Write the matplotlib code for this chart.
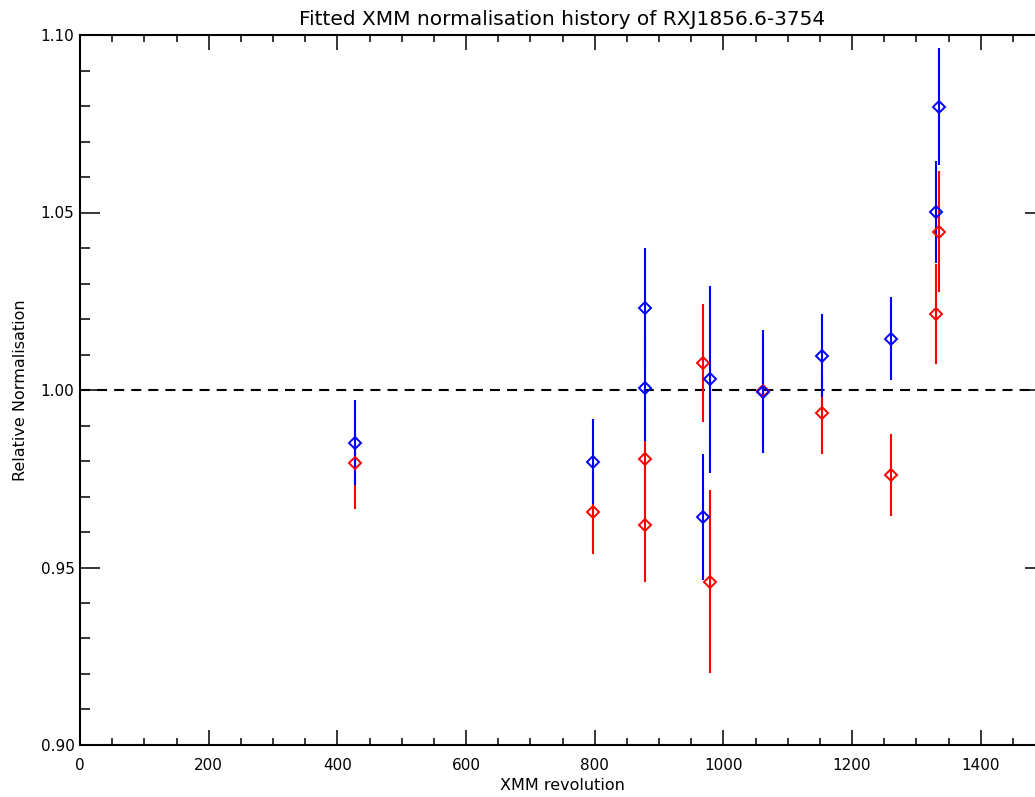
import matplotlib
matplotlib.use("Agg")
import matplotlib.pyplot as plt
from matplotlib.ticker import MultipleLocator, FormatStrFormatter

rev_red = [428, 798, 878, 878, 968, 980, 1061, 1153, 1260, 1331, 1335]
norm_red = [0.9794, 0.9655, 0.9805, 0.9620, 1.0077, 0.9460, 0.9997, 0.9934, 0.9761, 1.0214, 1.0446]
err_red = [0.0129, 0.0116, 0.0150, 0.0160, 0.0166, 0.0257, 0.0150, 0.0113, 0.0116, 0.0140, 0.0170]

rev_blue = [428, 798, 878, 878, 968, 980, 1061, 1153, 1260, 1330, 1335]
norm_blue = [0.9851, 0.9798, 1.0230, 1.0005, 0.9643, 1.0030, 0.9995, 1.0097, 1.0144, 1.0501, 1.0798]
err_blue = [0.0120, 0.0120, 0.0170, 0.0150, 0.0178, 0.0263, 0.0173, 0.0117, 0.0117, 0.0143, 0.0165]

plt.rcParams['font.family'] = ['DejaVu Sans']

W, H = 1035, 797
fig = plt.figure(figsize=(W / 100, H / 100), dpi=100)
# right spine sits just past the image edge, like the reference
ax = fig.add_axes([80 / W, (H - 745) / H, (1045 - 80) / W, (745 - 35) / H])

ax.axhline(1.0, color="black", lw=1.5, dashes=(4.8, 3.4), zorder=1)

for x, y, e, c in [(rev_red, norm_red, err_red, "red"),
                   (rev_blue, norm_blue, err_blue, "blue")]:
    ax.errorbar(x, y, yerr=e, fmt="D", ms=6.5, mfc="none", mec=c, mew=1.4,
                ecolor=c, elinewidth=1.5, capsize=0, zorder=2)

ax.set_xlim(0, 1500)
ax.set_ylim(0.90, 1.10)
ax.xaxis.set_major_locator(MultipleLocator(200))
ax.xaxis.set_minor_locator(MultipleLocator(50))
ax.yaxis.set_major_locator(MultipleLocator(0.05))
ax.yaxis.set_minor_locator(MultipleLocator(0.01))
ax.yaxis.set_major_formatter(FormatStrFormatter("%.2f"))

ax.tick_params(axis="both", which="both", direction="in", top=True, right=True,
               width=1.1, labelsize=11)
ax.tick_params(axis="x", which="major", length=10.5, pad=9)
ax.tick_params(axis="x", which="minor", length=5.2)
ax.tick_params(axis="y", which="major", length=14.4, pad=4)
ax.tick_params(axis="y", which="minor", length=7.2)
for s in ax.spines.values():
    s.set_linewidth(1.5)

ax.set_title("Fitted XMM normalisation history of RXJ1856.6-3754", fontsize=14.5, pad=7)
ax.set_xlabel("XMM revolution", fontsize=11.5, labelpad=4)
ax.set_ylabel("Relative Normalisation", fontsize=11.5, labelpad=9)

fig.savefig("out.png", dpi=100)
